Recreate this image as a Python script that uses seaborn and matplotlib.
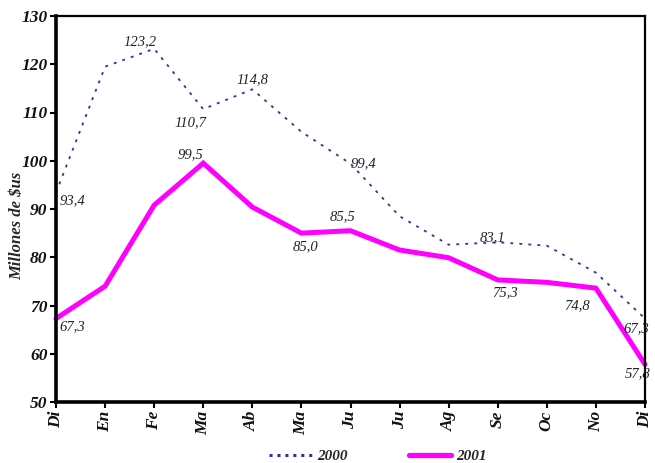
import matplotlib
matplotlib.use("Agg")
import matplotlib.pyplot as plt
from matplotlib.lines import Line2D
import numpy as np
import pandas as pd
import seaborn as sns

# Monthly figures, December to December (millions of $us)
months = ["Di", "En", "Fe", "Ma", "Ab", "Ma", "Ju", "Ju", "Ag", "Se", "Oc", "No", "Di"]
values_2000 = [93.4, 119.5, 123.2, 110.7, 114.8, 106.0, 99.4, 88.5, 82.6, 83.1, 82.4, 76.8, 67.3]
values_2001 = [67.3, 74.0, 90.8, 99.5, 90.4, 85.0, 85.5, 81.5, 79.9, 75.3, 74.8, 73.6, 57.8]

# Which points carry a value label, with the label offset in points
labels_2000 = {0: (12, -6), 2: (-10, 5), 3: (-9, -10), 4: (0, 7), 6: (9, 0), 9: (-4, 3), 12: (-6, -7)}
labels_2001 = {0: (12, -6), 3: (-9, 6), 5: (3, -10), 6: (-6, 10), 9: (5, -9), 10: (22, -17), 12: (-5, -7)}

sns.set_theme(style="white")
plt.rcParams["font.family"] = ["Liberation Serif", "DejaVu Serif"]

BLUE = "#333399"
MAGENTA = "#FF00FF"

df = pd.DataFrame({
    "pos": list(range(len(months))) * 2,
    "valor": values_2000 + values_2001,
    "anio": ["2000"] * len(months) + ["2001"] * len(months),
})

fig = plt.figure(figsize=(6.55, 4.63), dpi=100)
ax = fig.add_axes([56 / 655, 61 / 463, 589 / 655, 386 / 463])

d0 = df[df["anio"] == "2000"]
d1 = df[df["anio"] == "2001"]
sns.lineplot(data=d0, x="pos", y="valor", ax=ax, color=BLUE, lw=1.3,
             linestyle=(0, (1.6, 3.4)), sort=False, clip_on=False)
sns.lineplot(data=d1, x="pos", y="valor", ax=ax, color=MAGENTA, lw=3.6,
             sort=False, clip_on=False, solid_joinstyle="miter")

lbl_font = dict(family="Liberation Serif", style="italic", size=10.5, color="#222222")
for series, labels in ((values_2000, labels_2000), (values_2001, labels_2001)):
    for i, (dx, dy) in labels.items():
        ax.annotate(f"{series[i]:.1f}".replace(".", ","), (i, series[i]),
                    xytext=(dx, dy), textcoords="offset points",
                    ha="center", va="center", **lbl_font)

ax.set_xlim(0, len(months) - 1)
ax.set_ylim(50, 130)
ax.set_yticks(np.arange(50, 131, 10))
ax.set_xticks(range(len(months)))
ax.set_xticklabels(months, rotation=90)
for t in ax.get_xticklabels() + ax.get_yticklabels():
    t.set_fontfamily("Liberation Serif")
    t.set_fontstyle("italic")
    t.set_fontweight("bold")
    t.set_fontsize(12.5)
    t.set_color("#111111")
ax.tick_params(axis="both", direction="out", length=4, width=1.5, color="black", pad=2,
               bottom=True, left=True)
ax.set_xlabel("")
ax.set_ylabel("")

for side, w in (("left", 2.6), ("bottom", 2.6), ("top", 1.6), ("right", 1.6)):
    ax.spines[side].set_visible(True)
    ax.spines[side].set_color("black")
    ax.spines[side].set_linewidth(w)

fig.text(17 / 655, 1 - 226 / 463, "Millones de $us", rotation=90, ha="center", va="center",
         family="Liberation Serif", style="italic", weight="bold", size=12)

handles = [Line2D([], [], color=BLUE, lw=2.2, linestyle=(0, (1, 1.6))),
           Line2D([], [], color=MAGENTA, lw=3.8)]
fig.legend(handles, ["2000", "2001"], loc="center", ncol=2, frameon=False,
           bbox_to_anchor=(378 / 655, 1 - 456 / 463),
           prop=dict(family="Liberation Serif", style="italic", weight="bold", size=11),
           handlelength=2.8, handletextpad=0.35, columnspacing=4.0)

fig.savefig("out.png", dpi=100)
